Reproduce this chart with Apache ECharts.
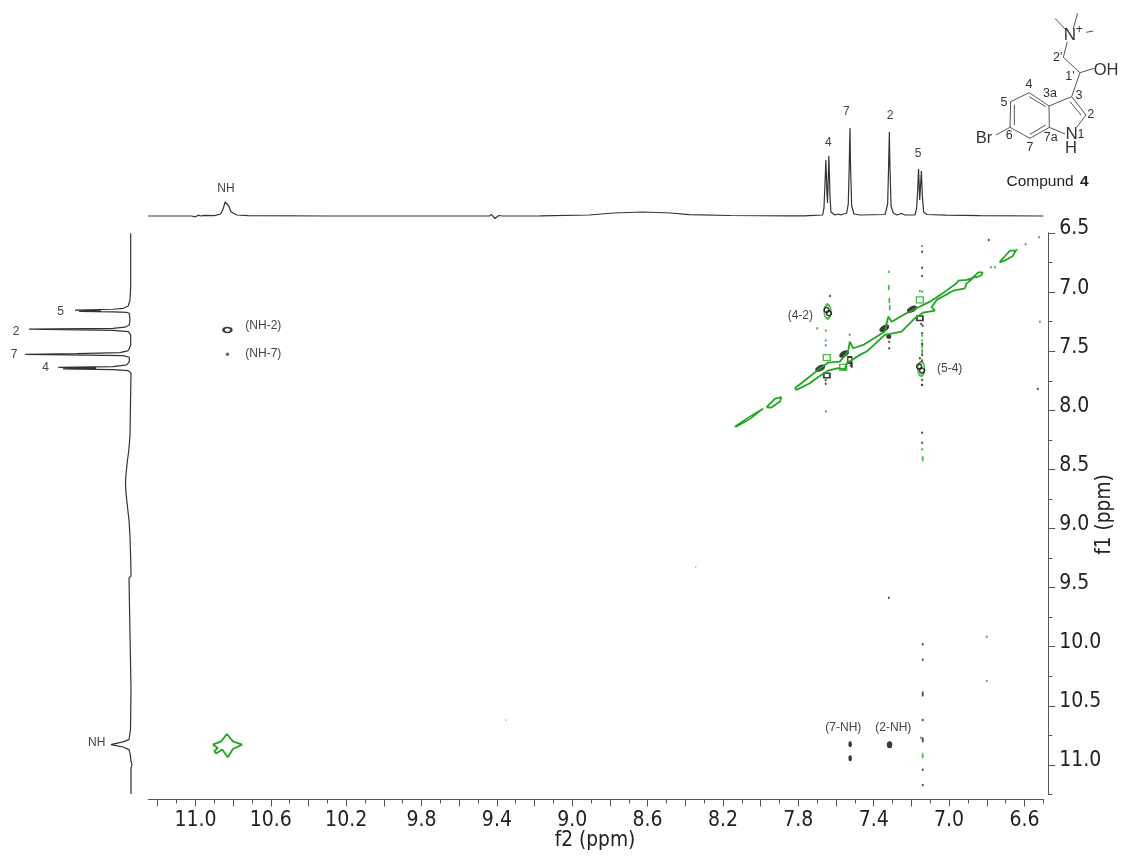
<!DOCTYPE html>
<html><head><meta charset="utf-8">
<style>html,body{margin:0;padding:0;background:#fff}#c{width:1124px;height:858px}</style>
<script src="https://cdn.jsdelivr.net/npm/echarts@6/dist/echarts.min.js"></script>
</head><body><div id="c"></div>
<script>
// f2 1D trace: [ppm, intensity]
const traceTop = [[11.25,0],[11.02,0],[11.0,-0.8],[10.985,0.8],[10.97,0],[10.955,0.6],[10.9,0.4],[10.866,2],[10.855,6],[10.842,14],[10.834,16],[10.823,10],[10.81,4],[10.78,1],[10.72,0.3],[10.3,0],[9.8,0],[9.44,0],[9.429,1.6],[9.41,-2.5],[9.39,0.5],[9.37,0],[9.17,0.2],[8.91,1],[8.78,3],[8.626,4],[8.48,3],[8.38,1.3],[8.16,0.5],[7.85,0.1],[7.765,0.1],[7.757,0.7],[7.745,0.4],[7.671,1],[7.664,8],[7.659,30],[7.654,56],[7.648,22],[7.645,13],[7.638,60],[7.632,20],[7.627,4],[7.606,1],[7.588,2],[7.575,1],[7.562,2],[7.544,2.5],[7.535,12],[7.53,50],[7.526,88],[7.523,50],[7.517,10],[7.505,2],[7.473,1],[7.34,1.5],[7.332,3],[7.326,12],[7.321,50],[7.317,84],[7.314,50],[7.308,10],[7.296,3],[7.278,1],[7.252,2.5],[7.234,1],[7.181,1],[7.172,8],[7.167,25],[7.162,47],[7.156,16],[7.153,16],[7.147,45],[7.142,20],[7.135,4],[7.119,1.5],[7.013,0.8],[6.836,0.4],[6.5,0]];
// f1 1D trace: [intensity, ppm]
const traceLeft = [[0.3,6.503],[0.3,6.954],[1,7.066],[2.7,7.117],[7.5,7.137],[17.7,7.145],[56,7.152],[30,7.157],[52,7.163],[18,7.168],[4.3,7.172],[1.7,7.179],[1,7.235],[1.7,7.278],[6,7.297],[18,7.306],[102,7.314],[18,7.323],[2.7,7.334],[0.3,7.362],[0.3,7.447],[2.7,7.495],[11,7.512],[54,7.52],[105.7,7.526],[64,7.531],[7.7,7.537],[1.7,7.551],[1.7,7.588],[4.3,7.616],[18,7.63],[72.7,7.637],[35,7.643],[68,7.649],[18,7.655],[2.7,7.664],[0,7.686],[0.5,7.937],[1,8.22],[2.2,8.34],[3.5,8.42],[4.5,8.5],[5.2,8.56],[5.5,8.613],[5.1,8.69],[4,8.78],[2,8.93],[1,9.07],[0.3,9.26],[0,9.4],[-1.5,9.41],[2,9.42],[0,9.435],[0,10.363],[0.5,10.7],[2,10.786],[8,10.805],[16,10.82],[20,10.828],[16,10.834],[8,10.848],[2,10.87],[0.7,10.912],[0,10.969],[-1,10.997],[0,11.025],[0,11.245]];
// green diagonal contours: [f2, f1]
const diagMain = [[7.819,7.813],[7.757,7.737],[7.695,7.658],[7.642,7.596],[7.58,7.588],[7.536,7.503],[7.527,7.419],[7.509,7.475],[7.456,7.447],[7.341,7.334],[7.323,7.207],[7.305,7.25],[7.243,7.193],[7.173,7.137],[7.102,7.081],[7.022,6.996],[6.96,6.926],[6.951,6.903],[6.907,6.897],[6.881,6.883],[6.86,6.862],[6.881,6.893],[6.907,6.926],[6.916,6.968],[6.978,6.988],[7.066,7.066],[7.093,7.128],[7.075,7.157],[7.137,7.173],[7.181,7.221],[7.235,7.306],[7.252,7.334],[7.341,7.362],[7.438,7.503],[7.473,7.531],[7.544,7.602],[7.553,7.653],[7.589,7.644],[7.642,7.664],[7.704,7.729],[7.739,7.771],[7.81,7.827],[7.819,7.813]];
const ovalA = [[6.868,6.869],[6.845,6.833],[6.822,6.833],[6.827,6.855],[6.854,6.875],[6.868,6.869]];
const ovalB = [[6.73,6.742],[6.698,6.686],[6.677,6.649],[6.647,6.649],[6.66,6.692],[6.698,6.728],[6.73,6.748],[6.73,6.742]];
const ovalC = [[7.969,7.974],[7.925,7.903],[7.89,7.889],[7.898,7.926],[7.943,7.977],[7.969,7.974]];
const ovalD = [[8.137,8.137],[8.058,8.053],[7.987,7.985],[8.058,8.075],[8.128,8.137],[8.137,8.137]];
const starNH = [[10.908,10.828],[10.863,10.8],[10.833,10.738],[10.801,10.8],[10.752,10.828],[10.801,10.865],[10.828,10.935],[10.858,10.87],[10.89,10.904],[10.899,10.884],[10.881,10.856],[10.908,10.828]];
// cross peaks and noise specks: [f2, f1]
const blackBlobs = [[7.684,7.644],[7.557,7.523],[7.344,7.306],[7.197,7.145]];
const blackRectRings = [[7.649,7.706],[7.155,7.221]];
const blackTallRings = [[7.527,7.574]];
const blackRings = [[7.65,7.151],[7.638,7.179],[7.159,7.63],[7.144,7.664]];
const blackSolid = [[7.32,7.376]];
const nhRing = [[10.83,7.32]];
const nh7Dot = [[10.83,7.525]];
const nhCross = [[7.316,10.83]];
const nhCrossTall = [[7.525,10.825],[7.525,10.943]];
const blackDots = [[6.79,6.559],[6.529,7.819],[7.143,6.658],[7.143,6.793],[7.143,6.864],[7.632,7.033],[7.14,9.98],[7.14,10.11],[7.14,10.62],[7.14,11.04],[7.14,11.17],[7.32,9.585],[7.143,8.19],[7.143,8.275],[7.318,7.419],[7.318,7.475],[7.148,7.27],[7.14,7.285],[7.143,7.348],[7.143,7.531],[7.155,7.56],[7.143,7.578],[7.143,7.785],[7.143,7.743],[7.655,7.743],[7.655,7.776],[7.523,7.62],[7.143,7.44]];
const blackBars = [[7.14,10.4],[7.14,10.79],[7.516,7.618]];
const tinyDots = [[8.345,9.325],[9.352,10.62]];
const greenDots = [[6.523,6.537],[6.594,6.596],[6.642,6.644],[6.757,6.79],[6.778,6.79],[6.518,7.25],[7.143,6.61],[7.143,6.996],[7.155,6.99],[7.654,7.325],[7.654,8.01],[7.7,7.306],[7.143,7.37],[7.143,7.41],[7.143,7.785],[7.143,8.33],[6.8,9.915],[6.8,10.29],[7.15,10.77],[7.32,6.827],[7.528,7.36],[7.655,7.41],[7.655,7.45]];
const greenBars = [[7.32,6.96],[7.317,7.07],[7.315,7.13],[7.14,10.92],[7.14,8.41],[7.143,7.45],[7.143,7.5]];
const greenRings = [[7.649,7.554],[7.155,7.066],[7.562,7.636]];
const greenTall = [[7.645,7.165],[7.148,7.65]];
// axis tick values and texts
const f2Major = [6.6,6.8,7.0,7.2,7.4,7.6,7.8,8.0,8.2,8.4,8.6,8.8,9.0,9.2,9.4,9.6,9.8,10.0,10.2,10.4,10.6,10.8,11.0,11.2];
const f2Minor = [6.5,6.7,6.9,7.1,7.3,7.5,7.7,7.9,8.1,8.3,8.5,8.7,8.9,9.1,9.3,9.5,9.7,9.9,10.1,10.3,10.5,10.7,10.9,11.1];
const f2Labels = [6.6,7.0,7.4,7.8,8.2,8.6,9.0,9.4,9.8,10.2,10.6,11.0];
const f1Major = [6.5,7.0,7.5,8.0,8.5,9.0,9.5,10.0,10.5,11.0];
const f1Minor = [6.75,7.25,7.75,8.25,8.75,9.25,9.75,10.25,10.75,11.25];
// annotation texts
const annotations = [['NH',226,189],['4',828.3,143],['7',846.3,112],['2',890,115.7],['5',918,153.7],['5',60.7,311.7],['2',16,332],['7',14,355],['4',45.7,368],['NH',96.7,742.7],['(NH-2)',263.3,325.7],['(NH-7)',263.3,353.3],['(4-2)',800.3,315.7],['(5-4)',949.7,368.7],['(7-NH)',843.3,727.7],['(2-NH)',893.3,727.7]];
// structure drawing, in crop units
const bonds = [[825,55,858,90],[893,40,880,85],[918,97,940,93],[862,125,850,172],[850,172,900,218],[900,218,942,205],[900,218,875,290],[875,290,807,318],[807,318,748,278],[748,278,692,305],[692,305,690,382],[690,382,750,415],[750,415,808,382],[808,382,807,318],[875,290,918,345],[918,345,890,382],[808,382,855,402],[690,382,648,405],[870,305,903,345],[748,290,797,320],[703,315,703,375],[750,403,797,375]];
const atomLabels = [['N',870,105,17],['+',898,90,12],['2\'',833,173,12.5],['OH',978,210,16.5],['1\'',870,230,12.5],['4',747,253,12.5],['3a',810,282,12.5],['3',897,288,12.5],['5',672,308,12.5],['2',932,345,12.5],['Br',612,415,16.5],['6',688,408,12.5],['7a',812,412,12.5],['N',875,403,17],['1',903,403,12.5],['H',873,445,16.5],['7',750,442,12.5]];

const G='#1ea81e', K='#0a0a0a', AX='#555';
const tickFont='"Liberation Sans Narrow","DejaVu Sans Condensed"';
const xBase=over=>Object.assign({type:'value',gridIndex:0,min:6.5,max:11.25,inverse:true,position:'bottom',offset:5,splitLine:{show:false},axisLine:{lineStyle:{color:AX,width:1}}},over);
const yBase=over=>Object.assign({type:'value',gridIndex:0,min:6.5,max:11.25,inverse:true,position:'right',offset:5,splitLine:{show:false},axisLine:{lineStyle:{color:AX,width:1}}},over);
const line=(name,data,color,w)=>({name,type:'line',xAxisIndex:0,yAxisIndex:0,data,symbol:'none',lineStyle:{color,width:w||1.8},clip:false,silent:true});
const pts=(name,data,color,size,extra)=>Object.assign({name,type:'scatter',xAxisIndex:0,yAxisIndex:0,data,symbol:'circle',symbolSize:size,itemStyle:{color},silent:true},extra||{});
const ring=(color,bw)=>({itemStyle:{color:'rgba(255,255,255,0)',borderColor:color,borderWidth:bw||1.3}});

const graphic=[];
annotations.forEach(a=>graphic.push({type:'text',x:a[1],y:a[2],silent:true,style:{text:a[0],fill:'#444',font:'12px "Liberation Sans"',textAlign:'center',textVerticalAlign:'middle'}}));
bonds.forEach(b=>graphic.push({type:'line',silent:true,shape:{x1:780+b[0]/3,y1:b[1]/3,x2:780+b[2]/3,y2:b[3]/3},style:{stroke:'#555',lineWidth:1}}));
atomLabels.forEach(a=>graphic.push({type:'text',x:780+a[1]/3,y:a[2]/3,silent:true,style:{text:a[0],fill:'#333',font:a[3]+'px "Liberation Sans"',textAlign:'center',textVerticalAlign:'middle'}}));
graphic.push({type:'text',x:1006.5,y:182,silent:true,style:{text:'Compund',fill:'#222',font:'15.5px "Liberation Sans"',textVerticalAlign:'middle'}});
graphic.push({type:'text',x:1080,y:182,silent:true,style:{text:'4',fill:'#222',font:'bold 15.5px "Liberation Sans"',textVerticalAlign:'middle'}});
graphic.push({type:'text',x:1105,y:514.5,rotation:Math.PI/2,silent:true,style:{text:'f1 (ppm)',fill:'#222',font:'20.7px '+tickFont,textAlign:'center',textVerticalAlign:'middle'}});
graphic.push({type:'text',x:595,y:841,silent:true,style:{text:'f2 (ppm)',fill:'#222',font:'20.7px '+tickFont,textAlign:'center',textVerticalAlign:'middle'}});

const gridBase={outerBoundsMode:'none',containLabel:false};
const chart=echarts.init(document.getElementById('c'));
chart.setOption({
 animation:false,backgroundColor:'#fff',
 grid:[Object.assign({left:148.3,width:895,top:233,height:561.5},gridBase),Object.assign({left:148.3,width:895,top:110,height:110},gridBase),Object.assign({left:18,width:118,top:233,height:561.5},gridBase)],
 xAxis:[
  xBase({axisTick:{show:true,length:7,customValues:f2Major,lineStyle:{color:AX}},
    axisLabel:{show:true,customValues:f2Labels,margin:11,color:'#222',fontFamily:tickFont,fontSize:21,formatter:v=>v.toFixed(1)}}),
  xBase({axisTick:{show:true,length:4,customValues:f2Minor,lineStyle:{color:AX}},axisLabel:{show:false}}),
  {type:'value',gridIndex:1,min:6.5,max:11.25,inverse:true,show:false},
  {type:'value',gridIndex:2,min:-5,max:113,inverse:true,show:false}
 ],
 yAxis:[
  yBase({axisTick:{show:true,length:7,customValues:f1Major,lineStyle:{color:AX}},
    axisLabel:{show:true,customValues:f1Major,margin:11,color:'#222',fontFamily:tickFont,fontSize:21,verticalAlign:'bottom',lineHeight:8,formatter:v=>v.toFixed(1)}}),
  yBase({axisTick:{show:true,length:4,customValues:f1Minor,lineStyle:{color:AX}},axisLabel:{show:false}}),
  {type:'value',gridIndex:1,min:-4,max:106,show:false},
  {type:'value',gridIndex:2,min:6.5,max:11.25,inverse:true,show:false}
 ],
 graphic:graphic,
 series:[
  {name:'f2 trace',type:'line',xAxisIndex:2,yAxisIndex:2,data:traceTop,symbol:'none',lineStyle:{color:'#333',width:1.2},silent:true},
  {name:'f1 trace',type:'line',xAxisIndex:3,yAxisIndex:3,data:traceLeft,symbol:'none',lineStyle:{color:'#333',width:1.2},silent:true},
  line('diagonal',diagMain,G),line('oval A',ovalA,G),line('oval B',ovalB,G),line('oval C',ovalC,G),line('oval D',ovalD,G,1.5),line('NH diagonal',starNH,G),
  pts('green specks',greenDots,G,[2,2.5]),
  pts('green bars',greenBars,G,[2,6]),
  pts('green rings',greenRings,G,[7,6],Object.assign({symbol:'rect'},ring(G))),
  pts('green tall',greenTall,G,[7,14],ring(G,1.8)),
  pts('black blobs',blackBlobs,K,[11,6],{symbolRotate:30}),
  pts('black rect rings',blackRectRings,K,[6,4.5],Object.assign({symbol:'rect'},ring(K,1.6))),
  pts('black tall rings',blackTallRings,K,[4,6],Object.assign({symbol:'rect'},ring(K,1.6))),
  pts('black rings',blackRings,K,[5,5],ring(K,1.5)),
  pts('black solid',blackSolid,K,[5,5]),
  pts('NH-2',nhRing,K,[8,5],ring(K,2)),
  pts('NH-7',nh7Dot,'#444',[3.5,3.5]),
  pts('2-NH',nhCross,K,[5.5,7]),
  pts('7-NH',nhCrossTall,K,[3.5,6]),
  pts('black specks',blackDots,'#222',[2,2.5]),
  pts('black bars',blackBars,'#222',[2,6]),
  pts('tiny specks',tinyDots,'#555',[1.5,1])
 ]
});
</script></body></html>
